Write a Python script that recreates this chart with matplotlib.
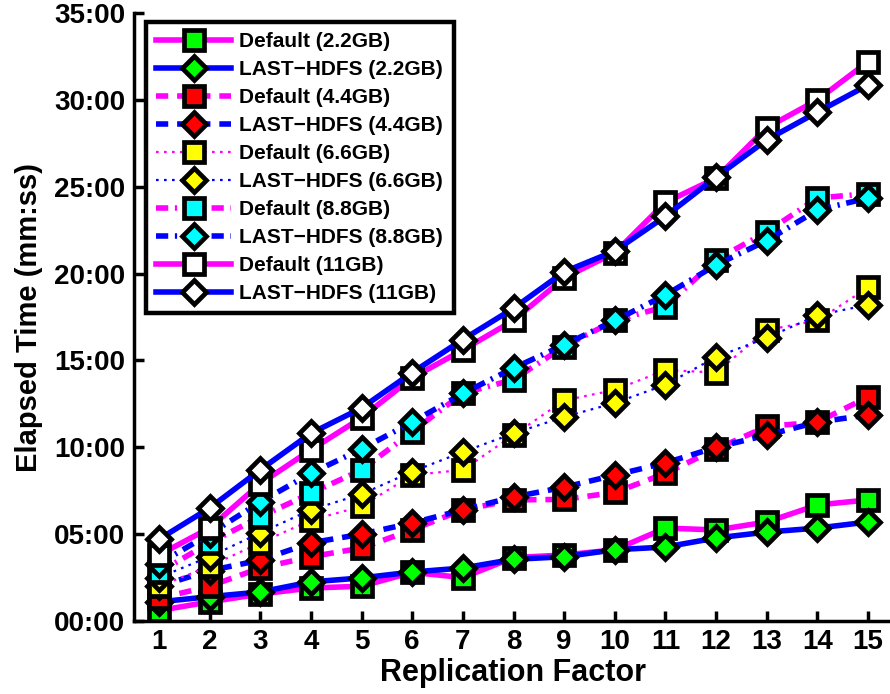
import matplotlib
matplotlib.use("Agg")
import matplotlib.pyplot as plt
from matplotlib.ticker import FuncFormatter, MultipleLocator

plt.rcParams['font.family'] = ['Liberation Sans', 'DejaVu Sans']
plt.rcParams['font.weight'] = 'bold'

replication = list(range(1, 16))

# Elapsed time in minutes
default_2_2 = [0.6, 1.1, 1.55, 1.9, 2.0, 2.8, 2.5, 3.65, 3.8, 4.1, 5.35, 5.24, 5.7, 6.68, 6.97]
last_2_2    = [1.1, 1.4, 1.67, 2.25, 2.48, 2.82, 3.05, 3.55, 3.7, 4.1, 4.26, 4.78, 5.12, 5.35, 5.7]
default_4_4 = [1.3, 2.0, 3.05, 3.7, 4.2, 5.25, 6.4, 6.97, 7.0, 7.4, 8.5, 9.9, 11.2, 11.45, 12.9]
last_4_4    = [2.0, 2.9, 3.5, 4.5, 5.0, 5.64, 6.4, 7.14, 7.7, 8.4, 9.1, 10.0, 10.7, 11.45, 11.86]
default_6_6 = [2.0, 3.15, 4.5, 5.8, 6.6, 8.4, 8.7, 10.7, 12.7, 13.3, 14.45, 14.3, 16.75, 17.3, 19.2]
last_6_6    = [2.5, 3.7, 5.07, 6.4, 7.3, 8.6, 9.73, 10.8, 11.75, 12.55, 13.6, 15.2, 16.3, 17.6, 18.2]
default_8_8 = [2.8, 4.5, 6.0, 7.35, 8.7, 10.9, 13.1, 13.9, 15.8, 17.3, 18.1, 20.8, 22.4, 24.35, 24.6]
last_8_8    = [3.3, 5.0, 6.85, 8.5, 9.9, 11.45, 13.1, 14.56, 15.9, 17.3, 18.77, 20.5, 21.9, 23.66, 24.35]
default_11  = [3.8, 5.35, 7.9, 9.85, 11.7, 14.0, 15.6, 17.3, 19.75, 21.2, 24.1, 25.5, 28.4, 30.0, 32.2]
last_11     = [4.7, 6.5, 8.7, 10.8, 12.26, 14.3, 16.2, 18.0, 20.1, 21.3, 23.3, 25.56, 27.7, 29.3, 30.86]

sizes = ['2.2GB', '4.4GB', '6.6GB', '8.8GB', '11GB']
default_series = [default_2_2, default_4_4, default_6_6, default_8_8, default_11]
last_series = [last_2_2, last_4_4, last_6_6, last_8_8, last_11]
face_colors = ['#00ff00', '#ff0000', '#ffff00', '#00ffff', '#ffffff']
line_styles = ['-', (0, (2.2, 1.6)), (0, (1.2, 2.4)), (0, (2.2, 1.2, 0.4, 1.2)), '-']
line_widths = [4.0, 4.0, 1.6, 4.0, 4.0]

fig = plt.figure(figsize=(8.9, 6.94), dpi=100)
ax = fig.add_axes([133.5 / 890, 1 - 621 / 694, (893.5 - 133.5) / 890, (621 - 13) / 694])

for d, l, fc, ls, lw, sz in zip(default_series, last_series, face_colors, line_styles, line_widths, sizes):
    ax.plot(replication, d, color='#ff00ff', linestyle=ls, linewidth=lw,
            marker='s', markersize=15, markerfacecolor=fc, markeredgecolor='black',
            markeredgewidth=3.4, label=f'Default ({sz})')
    ax.plot(replication, l, color='#0000ff', linestyle=ls, linewidth=lw,
            marker='D', markersize=12.5, markerfacecolor=fc, markeredgecolor='black',
            markeredgewidth=3.4, label=f'LAST\u2212HDFS ({sz})')

ax.set_xlim(0.5, 15.5)
ax.set_ylim(0, 35)
ax.set_xticks(replication)
ax.yaxis.set_major_locator(MultipleLocator(5))
ax.yaxis.set_major_formatter(FuncFormatter(lambda v, p: f"{int(round(v)):02d}:00"))

for s in ['top', 'right']:
    ax.spines[s].set_visible(False)
for s in ['left', 'bottom']:
    ax.spines[s].set_linewidth(2.5)
ax.tick_params(direction='in', length=7, width=2.5, labelsize=20, pad=6)
for lab in ax.get_xticklabels() + ax.get_yticklabels():
    lab.set_fontweight('bold')

ax.set_xlabel('Replication Factor', fontsize=22, fontweight='bold', labelpad=2)
ax.set_ylabel('Elapsed Time (mm:ss)', fontsize=21, fontweight='bold', labelpad=8)

leg = fig.legend(loc='upper left', bbox_to_anchor=(146 / 890, 1 - 22 / 694),
                 frameon=True, fancybox=False, framealpha=1.0, handlelength=3.6,
                 handletextpad=0.38, labelspacing=0.43, borderpad=0.5,
                 borderaxespad=0, prop={'weight': 'bold', 'size': 15})
leg.get_frame().set_edgecolor('black')
leg.get_frame().set_linewidth(3.2)

fig.savefig('out.png', dpi=100)
